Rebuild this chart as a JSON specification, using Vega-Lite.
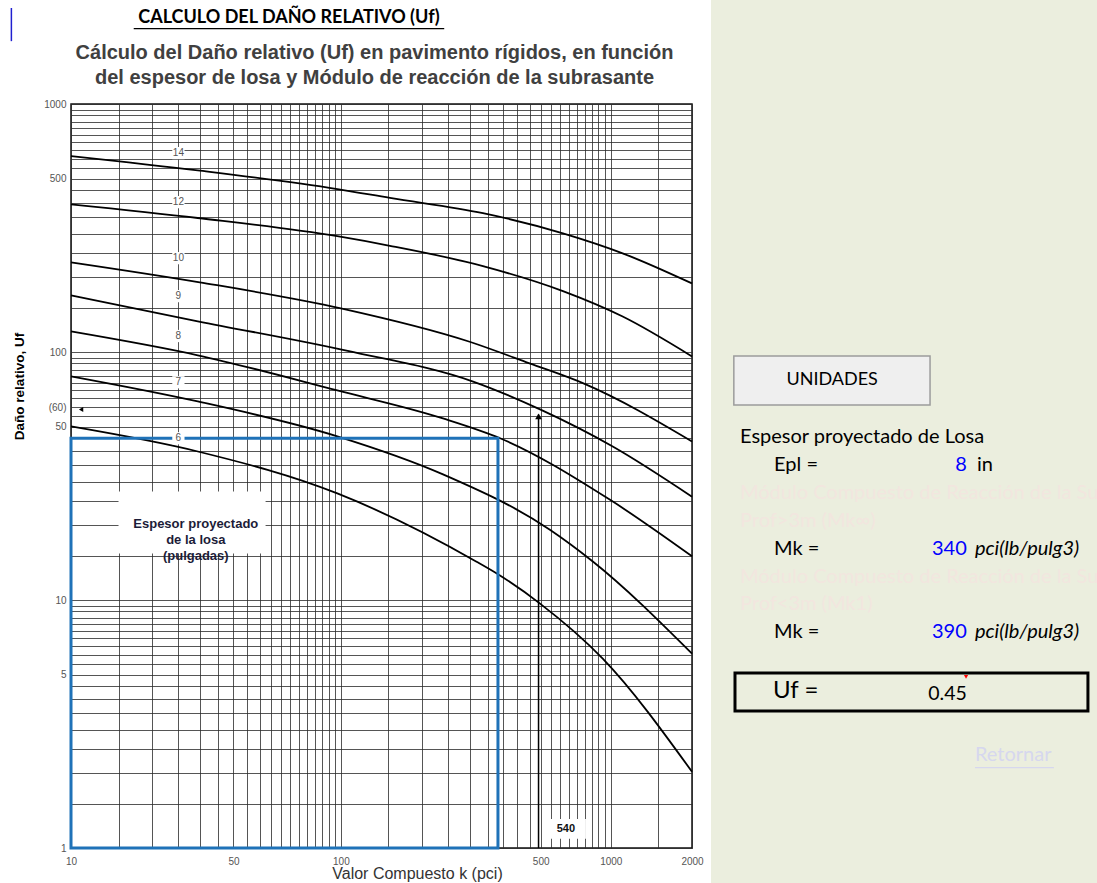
{
  "$schema": "https://vega.github.io/schema/vega-lite/v6.json",
  "background": "white",
  "padding": {"left": 10, "top": 0, "right": 0, "bottom": 0},
  "spacing": 7,
  "config": {"view": {"stroke": null}, "font": "Liberation Sans"},
  "datasets": {
    "curves": [
      {"esp": 14, "k": 10, "uf": 617}, {"esp": 14, "k": 29.5, "uf": 540}, {"esp": 14, "k": 97, "uf": 454}, {"esp": 14, "k": 152, "uf": 418}, {"esp": 14, "k": 336, "uf": 363}, {"esp": 14, "k": 665, "uf": 301}, {"esp": 14, "k": 1107, "uf": 250}, {"esp": 14, "k": 2000, "uf": 189},
      {"esp": 12, "k": 10, "uf": 394}, {"esp": 12, "k": 29.5, "uf": 347}, {"esp": 12, "k": 97, "uf": 293}, {"esp": 12, "k": 152, "uf": 268}, {"esp": 12, "k": 336, "uf": 222}, {"esp": 12, "k": 665, "uf": 176}, {"esp": 12, "k": 1107, "uf": 139}, {"esp": 12, "k": 2000, "uf": 96},
      {"esp": 10, "k": 10, "uf": 230}, {"esp": 10, "k": 30, "uf": 191}, {"esp": 10, "k": 100, "uf": 150}, {"esp": 10, "k": 300, "uf": 110}, {"esp": 10, "k": 500, "uf": 90}, {"esp": 10, "k": 800, "uf": 74.4}, {"esp": 10, "k": 2000, "uf": 43.6},
      {"esp": 9, "k": 10, "uf": 169}, {"esp": 9, "k": 29.5, "uf": 133}, {"esp": 9, "k": 106, "uf": 101}, {"esp": 9, "k": 309, "uf": 76}, {"esp": 9, "k": 547, "uf": 58.7}, {"esp": 9, "k": 1017, "uf": 41.6}, {"esp": 9, "k": 2000, "uf": 26.1},
      {"esp": 8, "k": 10, "uf": 121}, {"esp": 8, "k": 29.5, "uf": 97}, {"esp": 8, "k": 97, "uf": 70}, {"esp": 8, "k": 239, "uf": 54}, {"esp": 8, "k": 389, "uf": 44.9}, {"esp": 8, "k": 991, "uf": 25.4}, {"esp": 8, "k": 2000, "uf": 15},
      {"esp": 7, "k": 10, "uf": 79.8}, {"esp": 7, "k": 29.5, "uf": 63.2}, {"esp": 7, "k": 97, "uf": 45.7}, {"esp": 7, "k": 239, "uf": 32.1}, {"esp": 7, "k": 595, "uf": 19.2}, {"esp": 7, "k": 858, "uf": 14.3}, {"esp": 7, "k": 2000, "uf": 6.08},
      {"esp": 6, "k": 10, "uf": 50.1}, {"esp": 6, "k": 29.5, "uf": 39.7}, {"esp": 6, "k": 97, "uf": 26.9}, {"esp": 6, "k": 317, "uf": 14.3}, {"esp": 6, "k": 382, "uf": 12.7}, {"esp": 6, "k": 547, "uf": 9.67}, {"esp": 6, "k": 934, "uf": 5.8}, {"esp": 6, "k": 2000, "uf": 2.03}
    ],
    "curveLabels": [
      {"esp": "14", "k": 25, "uf": 634}, {"esp": "12", "k": 25, "uf": 402}, {"esp": "10", "k": 25, "uf": 239}, {"esp": "9", "k": 25, "uf": 168}, {"esp": "8", "k": 25, "uf": 116}, {"esp": "7", "k": 25, "uf": 75.5}, {"esp": "6", "k": 25, "uf": 44.9}
    ],
    "blackLabels": [
      {"c": 7.5, "r": 15, "t": "Espesor proyectado de Losa"},
      {"c": 16.3, "r": 16, "t": "Epl ="},
      {"c": 16.3, "r": 19, "t": "Mk ="},
      {"c": 16.3, "r": 22, "t": "Mk ="}
    ],
    "blueValues": [
      {"c": 66.1, "r": 16, "t": "8"},
      {"c": 66.1, "r": 19, "t": "340"},
      {"c": 66.1, "r": 22, "t": "390"}
    ],
    "units": [
      {"c": 67.7, "r": 16, "t": "in", "italic": false},
      {"c": 68.2, "r": 19, "t": "pci(lb/pulg3)", "italic": true},
      {"c": 68.2, "r": 22, "t": "pci(lb/pulg3)", "italic": true}
    ],
    "faint": [
      {"c": 7.5, "r": 17, "t": "Módulo Compuesto de Reacción de la Subrasante"},
      {"c": 7.5, "r": 18, "t": "Prof>3m (Mk∞)"},
      {"c": 7.5, "r": 20, "t": "Módulo Compuesto de Reacción de la Subrasante"},
      {"c": 7.5, "r": 21, "t": "Prof<3m (Mk1)"}
    ]
  },
  "hconcat": [
    {
      "spacing": 0,
      "vconcat": [
        {
          "width": 621,
          "height": 42,
          "layer": [
            {
              "data": {"values": [{"x": 35.1, "y": 0.43, "t": "CALCULO DEL DAÑO RELATIVO (Uf)"}]},
              "mark": {"type": "text", "font": "Lato", "fontWeight": "bold", "fontSize": 18, "color": "black"},
              "encoding": {
                "x": {"field": "x", "type": "quantitative", "scale": {"domain": [0, 100]}, "axis": null},
                "y": {"field": "y", "type": "quantitative", "scale": {"domain": [0, 1], "reverse": true}, "axis": null},
                "text": {"field": "t"}
              }
            },
            {
              "data": {"values": [{"x": 10.1, "x2": 60.1, "y": 0.68}]},
              "mark": {"type": "rule", "color": "black", "strokeWidth": 1.2},
              "encoding": {
                "x": {"field": "x", "type": "quantitative"},
                "x2": {"field": "x2"},
                "y": {"field": "y", "type": "quantitative"}
              }
            },
            {
              "data": {"values": [{"x": -9.6, "y": 0.19, "y2": 0.98}]},
              "mark": {"type": "rule", "color": "#2020D0", "strokeWidth": 1.5},
              "encoding": {
                "x": {"field": "x", "type": "quantitative"},
                "y": {"field": "y", "type": "quantitative"},
                "y2": {"field": "y2"}
              }
            }
          ]
        },
        {
          "width": 621,
          "height": 744,
          "view": {"stroke": "#111", "strokeWidth": 1.5},
          "title": {
            "text": ["Cálculo del Daño relativo (Uf) en pavimento rígidos, en función", "del espesor de losa y Módulo de reacción de la subrasante"],
            "font": "Liberation Sans", "fontSize": 20, "fontWeight": "bold", "color": "#404040",
            "lineHeight": 25, "offset": 11, "dx": -7
          },
          "layer": [
            {
              "data": {"name": "curves"},
              "mark": {"type": "line", "color": "black", "strokeWidth": 1.8, "interpolate": "monotone"},
              "encoding": {
                "x": {
                  "field": "k", "type": "quantitative",
                  "scale": {"type": "log", "domain": [10, 2000], "nice": false},
                  "axis": {
                    "values": [10, 15, 20, 25, 30, 35, 40, 45, 50, 55, 60, 65, 70, 75, 80, 85, 90, 95, 100, 150, 200, 250, 300, 350, 400, 450, 500, 550, 600, 650, 700, 750, 800, 850, 900, 950, 1000, 1500, 2000],
                    "labelExpr": "datum.value == 10 ? '10' : datum.value == 40 ? '50' : datum.value == 100 ? '100' : datum.value == 550 ? '500' : datum.value == 1000 ? '1000' : datum.value == 2000 ? '2000' : ''",
                    "grid": true, "gridColor": "#2a2a2a", "gridOpacity": 0.8, "gridWidth": 1,
                    "ticks": false, "domain": false,
                    "labelFont": "Liberation Sans", "labelFontSize": 10, "labelColor": "#555", "labelPadding": 8,
                    "labelOverlap": false, "labelFlush": false,
                    "title": "Valor Compuesto k (pci)", "titleFont": "Liberation Sans", "titleFontSize": 16,
                    "titleFontWeight": "normal", "titleColor": "#333",
                    "titleX": 346, "titleY": 25, "titleBaseline": "middle", "titleAlign": "center"
                  }
                },
                "y": {
                  "field": "uf", "type": "quantitative",
                  "scale": {"type": "log", "domain": [1, 1000], "nice": false},
                  "axis": {
                    "values": [1, 1.5, 2, 2.5, 3, 3.5, 4, 4.5, 5, 5.5, 6, 6.5, 7, 7.5, 8, 8.5, 9, 9.5, 10, 15, 20, 25, 30, 35, 40, 45, 50, 55, 60, 65, 70, 75, 80, 85, 90, 95, 100, 150, 200, 250, 300, 350, 400, 450, 500, 550, 600, 650, 700, 750, 800, 850, 900, 950, 1000],
                    "labelExpr": "datum.value == 1 ? '1' : datum.value == 5 ? '5' : datum.value == 10 ? '10' : datum.value == 50 ? '50' : datum.value == 60 ? '(60)' : datum.value == 100 ? '100' : datum.value == 500 ? '500' : datum.value == 1000 ? '1000' : ''",
                    "grid": true, "gridColor": "#2a2a2a", "gridOpacity": 0.8, "gridWidth": 1,
                    "ticks": false, "domain": false,
                    "labelFont": "Liberation Sans", "labelFontSize": 10, "labelColor": "#555", "labelPadding": 5,
                    "labelOverlap": false, "labelFlush": false,
                    "title": "Daño relativo, Uf", "titleFont": "Liberation Sans", "titleFontSize": 13.5,
                    "titleFontWeight": "bold", "titleColor": "black",
                    "titleX": -45, "titleY": 282, "titleBaseline": "bottom", "titleAlign": "center", "titleAngle": -90
                  }
                },
                "detail": {"field": "esp", "type": "nominal"}
              }
            },
            {
              "data": {"values": [{"k": 10, "k2": 382, "uf": 1, "uf2": 44.9}]},
              "mark": {"type": "rect", "fillOpacity": 0, "stroke": "#1F72B8", "strokeWidth": 3},
              "encoding": {
                "x": {"field": "k", "type": "quantitative"}, "x2": {"field": "k2"},
                "y": {"field": "uf", "type": "quantitative"}, "y2": {"field": "uf2"}
              }
            },
            {
              "data": {"name": "curveLabels"},
              "mark": {"type": "point", "shape": "square", "filled": true, "color": "white", "opacity": 1, "size": 150},
              "encoding": {
                "x": {"field": "k", "type": "quantitative"},
                "y": {"field": "uf", "type": "quantitative"}
              }
            },
            {
              "data": {"name": "curveLabels"},
              "mark": {"type": "text", "fontSize": 10, "color": "#555", "font": "Liberation Sans"},
              "encoding": {
                "x": {"field": "k", "type": "quantitative"},
                "y": {"field": "uf", "type": "quantitative"},
                "text": {"field": "esp"}
              }
            },
            {
              "data": {"values": [{"k": 15, "k2": 52.6, "uf": 15.4, "uf2": 27.4}]},
              "mark": {"type": "rect", "color": "white", "opacity": 1},
              "encoding": {
                "x": {"field": "k", "type": "quantitative"}, "x2": {"field": "k2"},
                "y": {"field": "uf", "type": "quantitative"}, "y2": {"field": "uf2"}
              }
            },
            {
              "data": {"values": [{"k": 29, "uf": 20.2, "t": "Espesor proyectado\nde la losa\n(pulgadas)"}]},
              "mark": {"type": "text", "fontSize": 13, "fontWeight": "bold", "color": "#1c1c38", "lineBreak": "\n", "lineHeight": 16, "baseline": "middle", "font": "Liberation Sans"},
              "encoding": {
                "x": {"field": "k", "type": "quantitative"},
                "y": {"field": "uf", "type": "quantitative"},
                "text": {"field": "t"}
              }
            },
            {
              "data": {"values": [{"k": 540, "uf": 1, "uf2": 56}]},
              "mark": {"type": "rule", "color": "black", "strokeWidth": 1.5},
              "encoding": {
                "x": {"field": "k", "type": "quantitative"},
                "y": {"field": "uf", "type": "quantitative"}, "y2": {"field": "uf2"}
              }
            },
            {
              "data": {"values": [{"k": 540, "uf": 55}]},
              "mark": {"type": "point", "shape": "triangle-up", "filled": true, "color": "black", "opacity": 1, "size": 45},
              "encoding": {
                "x": {"field": "k", "type": "quantitative"},
                "y": {"field": "uf", "type": "quantitative"}
              }
            },
            {
              "data": {"values": [{"k": 10.9, "uf": 58.7}]},
              "mark": {"type": "point", "shape": "triangle-left", "filled": true, "color": "black", "opacity": 1, "size": 25},
              "encoding": {
                "x": {"field": "k", "type": "quantitative"},
                "y": {"field": "uf", "type": "quantitative"}
              }
            },
            {
              "data": {"values": [{"k": 596, "k2": 809, "uf": 1.09, "uf2": 1.31}]},
              "mark": {"type": "rect", "color": "white", "opacity": 1},
              "encoding": {
                "x": {"field": "k", "type": "quantitative"}, "x2": {"field": "k2"},
                "y": {"field": "uf", "type": "quantitative"}, "y2": {"field": "uf2"}
              }
            },
            {
              "data": {"values": [{"k": 682, "uf": 1.19, "t": "540"}]},
              "mark": {"type": "text", "fontSize": 11, "fontWeight": "bold", "color": "#111", "font": "Liberation Sans"},
              "encoding": {
                "x": {"field": "k", "type": "quantitative"},
                "y": {"field": "uf", "type": "quantitative"},
                "text": {"field": "t"}
              }
            }
          ]
        }
      ]
    },
    {
      "width": 387,
      "height": 883,
      "view": {"fill": "#EBEEDE", "stroke": null},
      "encoding": {
        "x": {"field": "c", "type": "quantitative", "scale": {"domain": [0, 100]}, "axis": null},
        "y": {"field": "r", "type": "quantitative", "scale": {"domain": [-0.663, 30.985], "reverse": true}, "axis": null}
      },
      "layer": [
        {
          "data": {"values": [{"c": 5.9, "c2": 56.6, "r": 12.1, "r2": 13.85}]},
          "mark": {"type": "rect", "fill": "#EFEFEF", "stroke": "#9C9C9C", "strokeWidth": 1.5},
          "encoding": {"x2": {"field": "c2"}, "y2": {"field": "r2"}}
        },
        {
          "data": {"values": [{"c": 31.3, "r": 12.96, "t": "UNIDADES"}]},
          "mark": {"type": "text", "font": "Lato", "fontSize": 18, "color": "black", "baseline": "middle"},
          "encoding": {"text": {"field": "t"}}
        },
        {
          "data": {"name": "blackLabels"},
          "mark": {"type": "text", "font": "Lato", "fontSize": 20, "color": "black", "align": "left", "baseline": "middle"},
          "encoding": {"text": {"field": "t"}}
        },
        {
          "data": {"name": "blueValues"},
          "mark": {"type": "text", "font": "Lato", "fontSize": 20, "color": "#0000FF", "align": "right", "baseline": "middle"},
          "encoding": {"text": {"field": "t"}}
        },
        {
          "data": {"name": "units"},
          "transform": [{"filter": "!datum.italic"}],
          "mark": {"type": "text", "font": "Lato", "fontSize": 20, "color": "black", "align": "left", "baseline": "middle", "dx": 4},
          "encoding": {"text": {"field": "t"}}
        },
        {
          "data": {"name": "units"},
          "transform": [{"filter": "datum.italic"}],
          "mark": {"type": "text", "font": "Lato", "fontSize": 20, "fontStyle": "italic", "color": "black", "align": "left", "baseline": "middle"},
          "encoding": {"text": {"field": "t"}}
        },
        {
          "data": {"name": "faint"},
          "mark": {"type": "text", "font": "Lato", "fontSize": 20, "color": "#F2E6DF", "align": "left", "baseline": "middle", "clip": true},
          "encoding": {"text": {"field": "t"}}
        },
        {
          "data": {"values": [{"c": 6.2, "c2": 97.4, "r": 23.46, "r2": 24.82}]},
          "mark": {"type": "rect", "fillOpacity": 0, "stroke": "black", "strokeWidth": 3},
          "encoding": {"x2": {"field": "c2"}, "y2": {"field": "r2"}}
        },
        {
          "data": {"values": [{"c": 16.0, "r": 24.1, "t": "Uf ="}]},
          "mark": {"type": "text", "font": "Lato", "fontSize": 24, "color": "black", "align": "left", "baseline": "middle"},
          "encoding": {"text": {"field": "t"}}
        },
        {
          "data": {"values": [{"c": 66.1, "r": 24.2, "t": "0.45"}]},
          "mark": {"type": "text", "font": "Lato", "fontSize": 19.5, "color": "black", "align": "right", "baseline": "middle"},
          "encoding": {"text": {"field": "t"}}
        },
        {
          "data": {"values": [{"c": 65.9, "r": 23.6}]},
          "mark": {"type": "point", "shape": "triangle-down", "filled": true, "color": "red", "opacity": 1, "size": 18},
          "encoding": {}
        },
        {
          "data": {"values": [{"c": 68.2, "r": 26.4, "t": "Retornar"}]},
          "mark": {"type": "text", "font": "Lato", "fontSize": 20, "color": "#D6D7EE", "align": "left", "baseline": "middle"},
          "encoding": {"text": {"field": "t"}}
        },
        {
          "data": {"values": [{"c": 68.2, "c2": 88.6, "r": 26.85}]},
          "mark": {"type": "rule", "color": "#D6D7EE", "strokeWidth": 1.2},
          "encoding": {"x2": {"field": "c2"}}
        }
      ]
    }
  ]
}
